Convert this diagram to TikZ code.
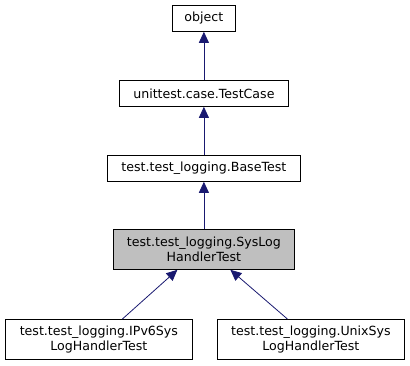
\documentclass[tikz,border=0pt]{standalone}
\usepackage{fontspec}
\setmainfont{DejaVu Sans}
\usetikzlibrary{arrows.meta,calc}
\definecolor{edgeblue}{HTML}{191970}
\definecolor{hilite}{HTML}{BFBFBF}
\begin{document}
\begin{tikzpicture}[x=1pt,y=-1pt,
  cls/.style={draw=black,fill=white,line width=0.8pt,inner sep=0pt,
    font=\fontsize{12.6}{15}\selectfont,align=center,anchor=north west},
  one/.style={cls,minimum height=26pt},
  two/.style={cls,minimum height=40pt},
  cur/.style={fill=hilite},
  inherit/.style={draw=edgeblue,line width=0.8pt,
    -{Triangle[length=11pt,width=10pt,fill=edgeblue]}}]
\useasboundingbox (0,0) rectangle (410,365);
% class boxes, placed by their top left corners
\node[one,minimum width=63pt]  (obj)  at (172,5)   {object};
\node[one,minimum width=169pt] (tc)   at (119,80)  {unittest.case.TestCase};
\node[one,minimum width=193pt] (base) at (107,155) {test.test\_logging.BaseTest};
\node[two,cur,minimum width=181pt] (sys) at (113,229) {test.test\_logging.SysLog\\HandlerTest};
\node[two,minimum width=187pt] (ipv6) at (5,319)   {test.test\_logging.IPv6Sys\\LogHandlerTest};
\node[two,minimum width=187pt] (unix) at (217,319) {test.test\_logging.UnixSys\\LogHandlerTest};
% inheritance arrows point from subclass to base class
\draw[inherit] (tc.north) -- (obj.south);
\draw[inherit] (base.north) -- (tc.south);
\draw[inherit] (sys.north) -- (base.south);
\draw[inherit] ([xshift=23.5pt]ipv6.north) -- ([xshift=-26.5pt]sys.south);
\draw[inherit] ([xshift=-23.5pt]unix.north) -- ([xshift=26.5pt]sys.south);
\end{tikzpicture}
\end{document}
